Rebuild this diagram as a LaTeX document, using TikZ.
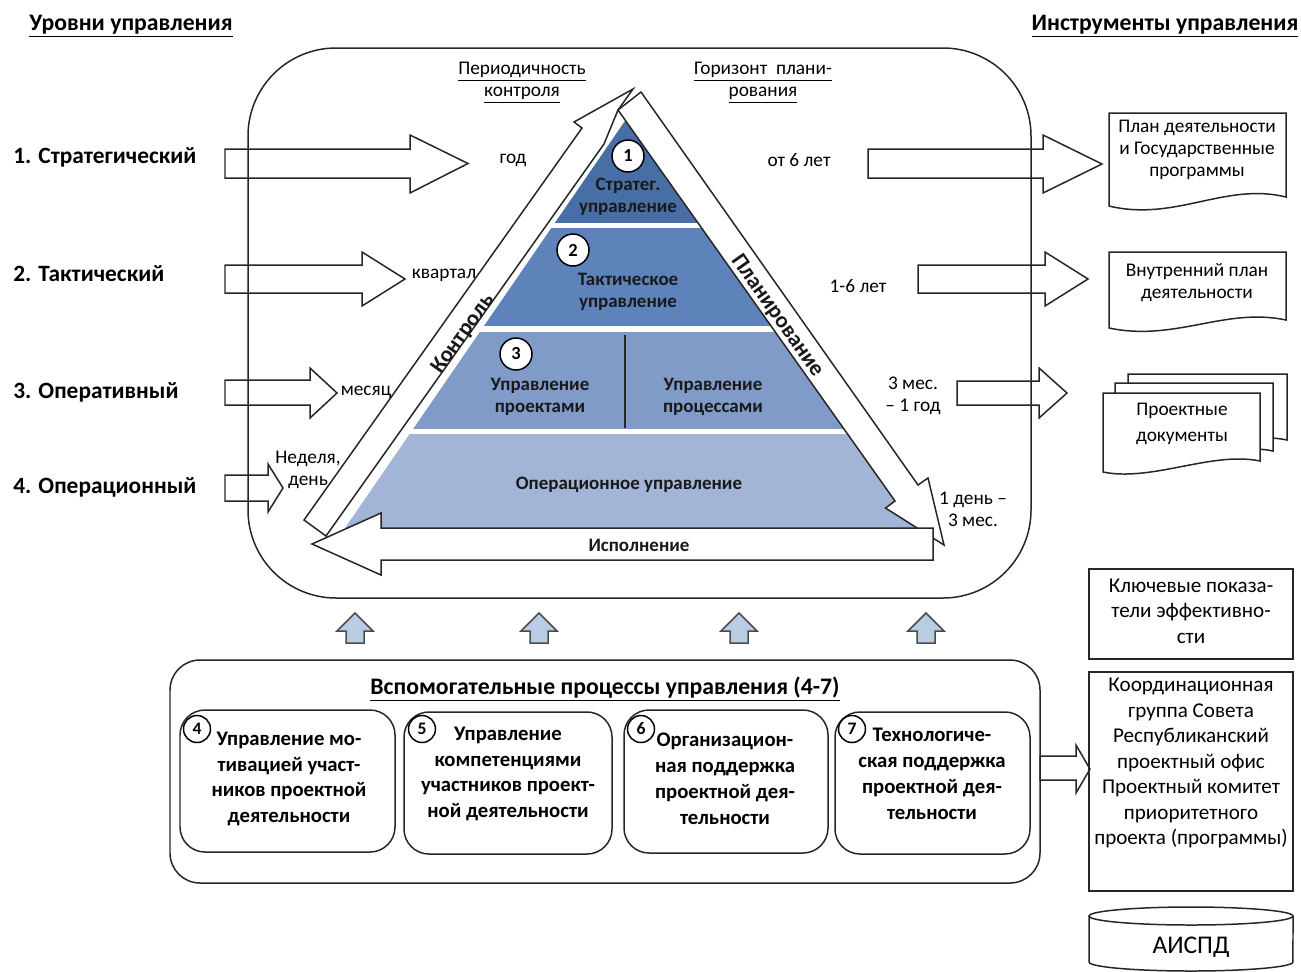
\documentclass[tikz,border=0pt]{standalone}
\usepackage{fontspec}
\setmainfont{Carlito}
\definecolor{lvone}{RGB}{72,110,166}
\definecolor{lvtwo}{RGB}{94,130,186}
\definecolor{lvthree}{RGB}{128,155,200}
\definecolor{lvfour}{RGB}{162,181,215}
\definecolor{upblue}{RGB}{184,204,228}
\tikzset{
  blockarr/.style={draw=black!85, fill=white, line width=0.85pt, line join=miter},
  shapeline/.style={draw=black!85, line width=0.85pt},
  levelname/.style={anchor=west, font=\bfseries\fontsize{13.3}{15}\selectfont},
  headtext/.style={font=\bfseries\fontsize{13.5}{15}\selectfont},
  note/.style={align=center, font=\fontsize{11}{12.5}\selectfont},
  pyrtext/.style={align=center, font=\bfseries\fontsize{10.8}{12.5}\selectfont, text=black!90},
  bandtext/.style={font=\bfseries\fontsize{12.8}{14}\selectfont, text=black!90},
  numcirc/.style={circle, draw, fill=white, line width=0.85pt, minimum size=0.64cm, inner sep=0pt, font=\bfseries\fontsize{10.5}{12}\selectfont},
  smallnum/.style={circle, draw, fill=white, line width=0.85pt, minimum size=0.54cm, inner sep=0pt, font=\bfseries\fontsize{10}{12}\selectfont},
  procbox/.style={draw=black!85, rounded corners=0.5cm, line width=0.85pt},
  proctext/.style={align=center, font=\bfseries\fontsize{11.8}{14.7}\selectfont},
  sidetext/.style={align=center, font=\fontsize{12}{14.5}\selectfont},
  uparr/.style={draw=black!70, fill=upblue, line width=0.85pt, line join=miter},
}
\begin{document}
\begin{tikzpicture}[x=0.02cm, y=-0.02cm, every node/.style={inner sep=0pt}]
    \useasboundingbox (0,0) rectangle (1301,971);
    %% headers
    \node[headtext] (hlevels) at (131,26) {\underline{Уровни управления}};
    \node[headtext] (htools) at (1165,26) {\underline{Инструменты управления}};
    %% levels on the left
    \node[levelname] (lev1) at (13,157) {1. Стратегический};
    \node[levelname] (lev2) at (13,274) {2. Тактический};
    \node[levelname] (lev3) at (13,392) {3. Оперативный};
    \node[levelname] (lev4) at (13,487) {4. Операционный};
    %% arrows from the levels
    \draw[blockarr] (225,149) -- (410,149) -- (410,135) -- (468,163.5) -- (410,193) -- (410,178) -- (225,178) -- cycle;
    \draw[blockarr] (225,265) -- (362,265) -- (362,252) -- (405,279) -- (362,306) -- (362,293) -- (225,293) -- cycle;
    \draw[blockarr] (225,380) -- (310,380) -- (310,368) -- (337,393) -- (310,418) -- (310,405) -- (225,405) -- cycle;
    \draw[blockarr] (225,475) -- (268,475) -- (268,464) -- (283,488) -- (268,512) -- (268,501) -- (225,501) -- cycle;
    %% arrows to the tools
    \draw[blockarr] (868,149) -- (1043,149) -- (1043,135) -- (1102,164) -- (1043,193) -- (1043,178) -- (868,178) -- cycle;
    \draw[blockarr] (918,265) -- (1045,265) -- (1045,252) -- (1088,279) -- (1045,306) -- (1045,293) -- (918,293) -- cycle;
    \draw[blockarr] (957,381) -- (1039,381) -- (1039,368) -- (1067,393) -- (1039,418) -- (1039,405) -- (957,405) -- cycle;
    \draw[blockarr] (1040,756) -- (1076,756) -- (1076,745) -- (1090,769) -- (1076,793) -- (1076,780) -- (1040,780) -- cycle;
    %% frame round the pyramid
    \draw[shapeline, rounded corners=1.76cm] (248,48) rectangle (1031,598);
    %% pyramid levels
    \begin{scope}
        \clip (627,118) -- (918,528) -- (345,528) -- cycle;
        \fill[lvone] (300,100) rectangle (960,223);
        \fill[lvtwo] (300,228) rectangle (960,326);
        \fill[lvthree] (300,332) rectangle (960,429);
        \fill[lvfour] (300,434) rectangle (960,528);
    \end{scope}
    \draw[black!85, line width=0.85pt] (625,335) -- (625,428);
    %% control, planning, execution
    \draw[blockarr] (304,520) -- (582,128) -- (574,122) -- (633,89) -- (618,110) -- (604,144) -- (326,536) -- cycle;
    \draw[blockarr] (618,110) -- (641,92) -- (918,485) -- (928,478) -- (944,545) -- (885.5,508) -- (895,501) -- cycle;
    \draw[blockarr] (933,528) -- (381,528) -- (381,513) -- (312,544) -- (381,575) -- (381,560) -- (933,560) -- cycle;
    \node[bandtext, rotate=54.7] (control) at (463,334) {Контроль};
    \node[bandtext, rotate=-54.8] (planning) at (777,316) {Планирование};
    \node[pyrtext] (execution) at (639,545) {Исполнение};
    %% texts in the pyramid
    \node[numcirc] (c1) at (628,156) {1};
    \node[numcirc] (c2) at (573,250) {2};
    \node[numcirc] (c3) at (516,354) {3};
    \node[pyrtext] (strat) at (628,197) {Стратег.\\управление};
    \node[pyrtext] (tact) at (628,292) {Тактическое\\управление};
    \node[pyrtext] (proj) at (540,397) {Управление\\проектами};
    \node[pyrtext] (proc) at (713,397) {Управление\\процессами};
    \node[pyrtext] (oper) at (629,485) {Операционное управление};
    %% periods
    \node[note] (hper) at (522,83) {\underline{Периодичность}\\\underline{контроля}};
    \node[note] (hhor) at (763,83) {\underline{Горизонт\ \ плани-}\\\underline{рования}};
    \node[note] (p1) at (513,160) {год};
    \node[note] (p2) at (444,275) {квартал};
    \node[note] (p3) at (366,392) {месяц};
    \node[note] (p4) at (308,470) {Неделя,\\день};
    \node[note] (h1) at (799,160) {от 6 лет};
    \node[note] (h2) at (858,286) {1-6 лет};
    \node[note] (h3) at (913,396) {3 мес.\\– 1 год};
    \node[note] (h4) at (973,509) {1 день –\\3 мес.};
    %% tools
    \draw[shapeline, fill=white] (1109,113) -- (1286,113) -- (1286,197) .. controls (1225,182) and (1175,222) .. (1109,206) -- cycle;
    \node[note] (doc1) at (1197,150) {План деятельности\\и Государственные\\программы};
    \draw[shapeline, fill=white] (1109,252) -- (1286,252) -- (1286,320) .. controls (1225,307) and (1175,342) .. (1109,328) -- cycle;
    \node[note] (doc2) at (1197,283) {Внутренний план\\деятельности};
    \draw[shapeline, fill=white] (1128,374) -- (1287,374) -- (1287,440) .. controls (1240,430) and (1180,458) .. (1128,448) -- cycle;
    \draw[shapeline, fill=white] (1115,383) -- (1273,383) -- (1273,451) .. controls (1225,441) and (1165,469) .. (1115,459) -- cycle;
    \draw[shapeline, fill=white] (1103,393) -- (1260,393) -- (1260,461) .. controls (1212,451) and (1152,482) .. (1103,472) -- cycle;
    \node[note, font=\fontsize{11}{14.5}\selectfont] (doc3) at (1182,424) {Проектные\\документы};
    \draw[shapeline] (1089,569) rectangle (1293,659);
    \node[sidetext] (kpi) at (1191,611) {Ключевые показа-\\тели эффективно-\\сти};
    \draw[shapeline] (1089,672) rectangle (1293,891);
    \node[sidetext, anchor=north] (coord) at (1191,678) {Координационная\\группа Совета\\Республиканский\\ проектный офис\\Проектный комитет\\приоритетного\\проекта (программы)};
    \draw[shapeline] (1089,916) -- (1089,962) arc[start angle=180, end angle=360, x radius=2.04cm, y radius=0.18cm] -- (1293,916);
    \draw[shapeline] (1191,916) ellipse [x radius=2.04cm, y radius=0.18cm];
    \node[font=\fontsize{14.5}{16}\selectfont] (aispd) at (1191,947) {АИСПД};
    %% support arrows
    \foreach \ux in {355,539,739,926}
        \draw[uparr] (\ux,613) -- (\ux+18,631) -- (\ux+9,631) -- (\ux+9,643) -- (\ux-9,643) -- (\ux-9,631) -- (\ux-18,631) -- cycle;
    %% support processes
    \draw[shapeline, rounded corners=0.6cm] (170,660) rectangle (1040,883);
    \node[headtext] (hsupport) at (605,689) {\underline{Вспомогательные процессы управления (4-7)}};
    \draw[procbox] (180,710) rectangle (395,852);
    \draw[procbox] (404,712) rectangle (612,854);
    \draw[procbox] (624,710) rectangle (828,853);
    \draw[procbox] (835,712) rectangle (1030,854);
    \node[smallnum] (c4) at (197,729) {4};
    \node[smallnum] (c5) at (422,729) {5};
    \node[smallnum] (c6) at (641,729) {6};
    \node[smallnum] (c7) at (852,729) {7};
    \node[proctext] (s4) at (289,779) {Управление мо-\\тивацией участ-\\ников проектной\\деятельности};
    \node[proctext] (s5) at (508,774) {Управление\\компетенциями\\участников проект-\\ной деятельности};
    \node[proctext] (s6) at (725,779) {Организацион-\\ная поддержка\\проектной дея-\\тельности};
    \node[proctext] (s7) at (932,774) {Технологиче-\\ская поддержка\\проектной дея-\\тельности};
\end{tikzpicture}
\end{document}
